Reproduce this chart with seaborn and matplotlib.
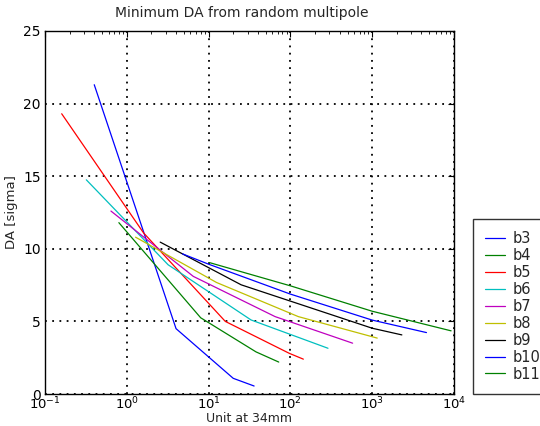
import matplotlib
matplotlib.use("Agg")
import matplotlib.pyplot as plt
import seaborn as sns
import pandas as pd

# ---- data ----
series = ["b3", "b4", "b5", "b6", "b7", "b8", "b9", "b10", "b11"]
x_b3 = [0.4, 4.0, 20, 36]
y_b3 = [21.3, 4.5, 1.08, 0.55]
x_b4 = [0.8, 8.0, 38, 72]
y_b4 = [11.8, 5.25, 2.9, 2.2]
x_b5 = [0.16, 1.6, 16, 97, 144]
y_b5 = [19.3, 11.1, 5.0, 2.8, 2.4]
x_b6 = [0.32, 3.2, 33, 288]
y_b6 = [14.75, 8.9, 5.1, 3.15]
x_b7 = [0.64, 6.5, 65, 576]
y_b7 = [12.6, 8.1, 5.33, 3.5]
x_b8 = [1.28, 12.5, 125, 1152]
y_b8 = [10.8, 7.68, 5.33, 3.85]
x_b9 = [2.56, 25, 1000, 2304]
y_b9 = [10.46, 7.52, 4.53, 4.07]
x_b10 = [4.8, 10, 100, 1000, 4608]
y_b10 = [9.65, 8.94, 6.88, 5.09, 4.23]
x_b11 = [10.24, 100, 1000, 9216]
y_b11 = [9.05, 7.45, 5.7, 4.35]

xs = [x_b3, x_b4, x_b5, x_b6, x_b7, x_b8, x_b9, x_b10, x_b11]
ys = [y_b3, y_b4, y_b5, y_b6, y_b7, y_b8, y_b9, y_b10, y_b11]

rows = []
for name, xv, yv in zip(series, xs, ys):
    for i, (a, b) in enumerate(zip(xv, yv)):
        rows.append({"series": name, "order": i, "x": a, "y": b})
df = pd.DataFrame(rows)

colors = ["#0000ff", "#008000", "#ff0000", "#00bfbf", "#bf00bf",
          "#bfbf00", "#000000", "#0000ff", "#008000"]

sns.set_style("white")
plt.rcParams["font.family"] = ["DejaVu Sans"]
plt.rcParams["mathtext.fontset"] = "dejavusans"

fig = plt.figure(figsize=(5.4, 4.26), dpi=100)
ax = fig.add_axes([45 / 540, 1 - 394 / 426, (454 - 45) / 540, (394 - 31) / 426])

sns.lineplot(data=df, x="x", y="y", hue="series", hue_order=series,
             palette=colors, sort=False, estimator=None, units="series",
             linewidth=0.9, ax=ax, legend=True)

ax.set_xscale("log")
ax.set_xlim(0.1, 1e4)
ax.set_ylim(0, 25)
ax.set_yticks([0, 5, 10, 15, 20, 25])
ax.grid(True, which="major", color="k", linestyle=(0, (1, 3)), linewidth=1.3)
ax.minorticks_on()
ax.tick_params(which="both", direction="in", top=True, right=True,
               labelsize=10, colors="k", pad=3)
ax.tick_params(axis="x", which="both", pad=1.5, labelsize=9.5)
ax.tick_params(axis="y", which="minor", left=False, right=False)
ax.tick_params(which="major", length=4, width=0.8)
ax.tick_params(which="minor", length=2, width=0.6)
for s in ax.spines.values():
    s.set_color("k")
    s.set_linewidth(1.0)

ax.set_title("Minimum DA from random multipole", fontsize=10, pad=10, x=0.48)
ax.set_xlabel("Unit at 34mm", fontsize=9)
ax.xaxis.label.set_va("center")
ax.xaxis.set_label_coords(0.5, -(419 - 394) / 363)
ax.set_ylabel("DA [sigma]", fontsize=9.5, labelpad=4)

handles, labels = ax.get_legend_handles_labels()
leg = ax.legend(handles, labels, loc="lower left", bbox_to_anchor=(1.046, 0.0),
                borderaxespad=0, frameon=True, fancybox=False, fontsize=10.5,
                labelspacing=0.13, handlelength=1.35, handletextpad=0.55,
                borderpad=0.85)
leg.get_frame().set_edgecolor("k")
leg.get_frame().set_linewidth(1.0)

fig.savefig("out.png", dpi=100)
